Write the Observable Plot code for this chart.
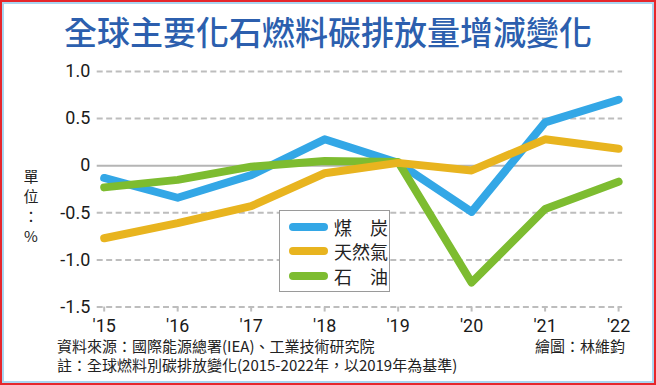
<!DOCTYPE html>
<html>
<head>
<meta charset="utf-8">
<script src="https://cdn.jsdelivr.net/npm/d3@7"></script>
<script src="https://cdn.jsdelivr.net/npm/@observablehq/plot@0.6"></script>
<style>
  html, body { margin: 0; padding: 0; background: #fff; }
  #frame { position: relative; width: 656px; height: 385px; box-sizing: border-box; border: 2px solid #e6262b; background: #fff; overflow: hidden; font-family: "Noto Sans CJK TC", "Noto Sans", sans-serif; }
  #inner { position: absolute; left: 0; top: 0; right: 0; bottom: 0; border: 2px solid #a9d5f0; }
  #title { position: absolute; left: 0; width: 652px; top: 8px; text-align: center; font-size: 33px; line-height: 42px; color: #2c5fae; font-weight: 500; }
  #chart { position: absolute; left: -2px; top: -2px; }
  #unit { position: absolute; left: 19px; top: 164px; width: 20px; text-align: center; font-size: 15px; line-height: 20px; color: #222; }
  #legend { position: absolute; left: 277px; top: 208px; width: 109px; height: 80px; border: 1px solid #9a9a9a; background: #fff; }
  .lrow { position: absolute; left: 9px; height: 20px; display: flex; align-items: center; }
  .sw { width: 39px; height: 8px; border-radius: 4px; margin-right: 6px; }
  .lt { font-size: 18px; line-height: 20px; color: #222; }
  #src { position: absolute; left: 55px; top: 334px; font-size: 15px; line-height: 19px; color: #222; }
  #credit { position: absolute; right: 29px; top: 334px; font-size: 15px; line-height: 19px; color: #222; }
</style>
</head>
<body>
<div id="frame">
  <div id="inner"></div>
  <div id="chart"></div>
  <div id="title"></div>
  <div id="unit"></div>
  <div id="legend"></div>
  <div id="src"></div>
  <div id="credit"></div>
</div>
<script>
// ---- data ----
const titleText = "全球主要化石燃料碳排放量增減變化";
const unitChars = ["單", "位", "：", "%"];
const years = [2015, 2016, 2017, 2018, 2019, 2020, 2021, 2022];
const xTickLabels = ["'15", "'16", "'17", "'18", "'19", "'20", "'21", "'22"];
const coal = [-0.13, -0.34, -0.10, 0.28, 0.03, -0.49, 0.46, 0.70];
const gas  = [-0.77, -0.61, -0.43, -0.08, 0.03, -0.05, 0.28, 0.18];
const oil  = [-0.23, -0.15, -0.01, 0.05, 0.04, -1.24, -0.46, -0.17];
const seriesNames = ["煤　炭", "天然氣", "石　油"];
const seriesColors = ["#33a7e6", "#e8b41f", "#7dbc30"];
const yTicks = [1.0, 0.5, 0, -0.5, -1.0, -1.5];
const yTickLabels = ["1.0", "0.5", "0", "-0.5", "-1.0", "-1.5"];
const sourceLines = ["資料來源：國際能源總署(IEA)、工業技術研究院", "註：全球燃料別碳排放變化(2015-2022年，以2019年為基準)"];
const creditText = "繪圖：林維鈞";

// ---- build table ----
const seriesValues = [coal, gas, oil];
const rows = [];
seriesValues.forEach((vals, si) => {
  vals.forEach((v, i) => rows.push({ series: seriesNames[si], year: years[i], value: v }));
});
const bySeries = name => rows.filter(r => r.series === name);

const gridDashed = yTicks.filter(v => v !== 0);

const W = 656, H = 345;
const plot = Plot.plot({
  width: W,
  height: H,
  marginLeft: 104,
  marginRight: 36,
  marginTop: 71,
  marginBottom: 37.5,
  style: { fontFamily: "Roboto, 'Noto Sans', sans-serif", background: "transparent", color: "#1a1a1a" },
  x: { domain: [2015, 2022], range: [104, 620], label: null },
  y: { domain: [-1.5, 1.0], range: [307.5, 71.2], label: null },
  marks: [
    Plot.ruleY(gridDashed, { y: d => d, stroke: "#bdbdbd", strokeWidth: 2, strokeDasharray: "6,3.5", insetLeft: -7, insetRight: -4 }),
    Plot.ruleY([0], { y: d => d, stroke: "#b5b5b5", strokeWidth: 2, insetLeft: -7, insetRight: -4 }),
    Plot.axisY({ ticks: yTicks, tickSize: 0, tickPadding: 14, fontSize: 18, label: null,
      tickFormat: v => yTickLabels[yTicks.indexOf(v)] }),
    Plot.axisX({ ticks: years, tickSize: 5, tickPadding: 7, fontSize: 18, stroke: "#bdbdbd", strokeWidth: 2, label: null,
      tickFormat: v => xTickLabels[years.indexOf(v)] }),
    Plot.line(bySeries(seriesNames[0]), { x: "year", y: "value", stroke: seriesColors[0], strokeWidth: 8, strokeLinecap: "round", strokeLinejoin: "round" }),
    Plot.line(bySeries(seriesNames[2]), { x: "year", y: "value", stroke: seriesColors[2], strokeWidth: 8, strokeLinecap: "round", strokeLinejoin: "round" }),
    Plot.line(bySeries(seriesNames[1]), { x: "year", y: "value", stroke: seriesColors[1], strokeWidth: 8, strokeLinecap: "round", strokeLinejoin: "round" })
  ]
});
document.getElementById("chart").appendChild(plot);

document.getElementById("title").textContent = titleText;
document.getElementById("unit").innerHTML = unitChars.map(c => `<div>${c}</div>`).join("");

const legend = document.getElementById("legend");
const rowTops = [6, 29.5, 55];
seriesNames.forEach((name, i) => {
  const r = document.createElement("div");
  r.className = "lrow";
  r.style.top = rowTops[i] + "px";
  r.innerHTML = `<div class="sw" style="background:${seriesColors[i]}"></div><div class="lt">${name}</div>`;
  legend.appendChild(r);
});

document.getElementById("src").innerHTML = sourceLines.map(t => `<div>${t}</div>`).join("");
document.getElementById("credit").textContent = creditText;
</script>
</body>
</html>
